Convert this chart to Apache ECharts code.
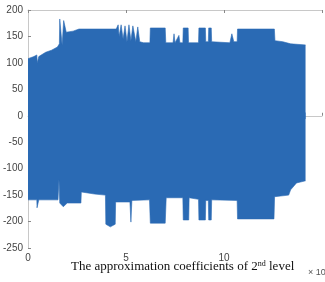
<!DOCTYPE html>
<html>
<head>
<meta charset="utf-8">
<script src="https://cdn.jsdelivr.net/npm/echarts@6/dist/echarts.min.js"></script>
<style>
  html, body { margin: 0; padding: 0; background: #fff; }
  #chart { width: 325px; height: 282px; }
</style>
</head>
<body>
<div id="chart"></div>
<script>
// envelope of the coefficients (x in units of 10^4 samples)
var topX = [0, 0.3, 0.45, 0.47, 0.55, 0.9, 1.2, 1.5, 1.6, 1.62, 1.72, 1.74, 1.8, 1.82, 1.92, 1.95, 2.3, 2.6, 4.5,
  4.6, 4.65, 4.75, 4.85, 4.95, 5.05, 5.15, 5.25, 5.35, 5.5, 5.6, 5.7, 5.9, 6.22, 6.24, 7.0, 7.03, 7.4, 7.45, 7.5,
  7.7, 7.75, 7.9, 7.92, 8.17, 8.19, 8.7, 8.72, 9.05, 9.07, 9.2, 9.22, 9.35, 9.37, 10.3, 10.4, 10.5, 10.67, 10.69,
  12.57, 12.6, 13.0, 13.4, 14.16];
var topY = [108, 112, 115, 100, 112, 120, 124, 130, 136, 183, 183, 134, 134, 180, 178, 158, 160, 164, 164,
  172, 150, 172, 145, 170, 140, 172, 142, 170, 140, 168, 140, 138, 138, 166, 166, 138, 138, 155, 138,
  152, 138, 138, 166, 166, 138, 138, 166, 166, 140, 140, 166, 166, 140, 138, 155, 140, 140, 164,
  164, 142, 140, 136, 134];

var botX = [0, 0.45, 0.46, 0.54, 0.55, 1.53, 1.58, 1.62, 1.8, 2.0, 2.7, 2.72, 3.4, 3.95, 3.97, 4.2, 4.45, 4.47,
  5.2, 5.25, 5.3, 6.2, 6.24, 7.0, 7.05, 7.9, 7.92, 8.2, 8.22, 8.7, 8.72, 9.05, 9.07, 9.2, 9.22, 9.35, 9.37,
  10.67, 10.69, 12.55, 12.58, 13.3, 13.4, 13.7, 14.16];
var botY = [-159, -159, -174, -174, -159, -159, -120, -165, -172, -165, -165, -144, -148, -150, -205, -210, -205, -163,
  -163, -201, -160, -159, -203, -203, -155, -155, -197, -197, -155, -158, -197, -197, -160, -160, -197, -197, -159,
  -160, -195, -195, -153, -150, -140, -127, -123];

var xTicks = [0, 5, 10];

function pairs(xs, ys) {
  return xs.map(function (x, i) { return [x, ys[i]]; });
}

var blue = '#2a6ab4';
var chart = echarts.init(document.getElementById('chart'));

var axisBase = {
  type: 'value',
  axisLine: { show: true, lineStyle: { color: '#c8c8c8', width: 1 } },
  axisTick: { show: true, inside: true, length: 3, lineStyle: { color: '#888' } },
  splitLine: { show: false }
};

chart.setOption({
  animation: false,
  grid: { left: 27, top: 10, width: 303, height: 238 },
  xAxis: [
    Object.assign({}, axisBase, {
      position: 'bottom', min: 0, max: 15, interval: 5,
      axisLabel: {
        color: '#444', fontSize: 10, fontFamily: 'Liberation Sans', margin: 5,
        formatter: function (v) { return xTicks.indexOf(v) >= 0 ? String(v) : ''; }
      }
    }),
    Object.assign({}, axisBase, {
      position: 'top', min: 0, max: 15, interval: 5,
      axisLabel: { show: false }
    })
  ],
  yAxis: Object.assign({}, axisBase, {
    min: -250, max: 200, interval: 50,
    axisLabel: { color: '#444', fontSize: 10, fontFamily: 'Liberation Sans', margin: 5 }
  }),
  series: [
    {
      type: 'line', data: pairs(topX, topY), symbol: 'none',
      lineStyle: { color: blue, width: 0.6 },
      areaStyle: { color: blue, opacity: 1, origin: -6 }
    },
    {
      type: 'line', data: pairs(botX, botY), symbol: 'none',
      lineStyle: { color: blue, width: 0.6 },
      areaStyle: { color: blue, opacity: 1, origin: 6 }
    }
  ],
  graphic: [
    {
      type: 'text', left: 71, top: 260,
      style: {
        text: '{a|The approximation coefficients of 2}{s|nd}{a| level}',
        rich: {
          a: { fontFamily: 'Liberation Serif', fontSize: 13, fill: '#111' },
          s: { fontFamily: 'Liberation Serif', fontSize: 8, fill: '#111', verticalAlign: 'top', padding: [0, 0, 6, 0] }
        }
      }
    },
    {
      type: 'text', left: 308, top: 268,
      style: { text: '× 10', fontFamily: 'Liberation Sans', fontSize: 9, fill: '#555' }
    }
  ]
});
</script>
</body>
</html>
